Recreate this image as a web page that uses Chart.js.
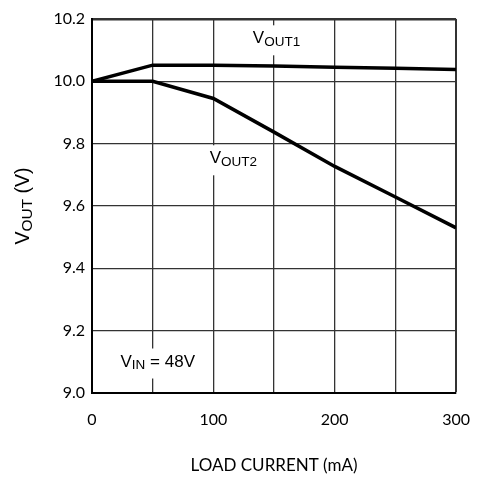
<!DOCTYPE html>
<html>
<head>
<meta charset="utf-8">
<script src="https://cdn.jsdelivr.net/npm/chart.js@4"></script>
<style>
  html, body { margin: 0; padding: 0; background: #fff; }
  #wrap { width: 487px; height: 477px; }
</style>
</head>
<body>
<div id="wrap"><canvas id="myChart" width="487" height="477"></canvas></div>
<script>
// load current (mA) on x, output voltage (V) on y
const loadCurrent = [0, 50, 100, 150, 200, 250, 300];
const vout1 = [10.0, 10.052, 10.052, 10.049, 10.045, 10.042, 10.038];
const vout2 = [10.0, 10.0, 9.945, 9.837, 9.727, 9.629, 9.530];

const xTickLabels = ['0', '100', '200', '300'];
const yTickLabels = ['9.0', '9.2', '9.4', '9.6', '9.8', '10.0', '10.2'];

// text notes inside the plot: main letter + subscript + rest, at (x mA, y V)
const notes = [
  { main: 'V', sub: 'OUT1', rest: '', x: 132.5, y: 10.122 },
  { main: 'V', sub: 'OUT2', rest: '', x: 97, y: 9.737 },
  { main: 'V', sub: 'IN', rest: ' = 48V', x: 23.5, y: 9.085 }
];

const tickFont = { family: 'Lato', size: 16 };
const noteFont = '17px "Liberation Sans"';
const subFont = '13.5px "Liberation Sans"';

function near(a, b) { return Math.abs(a - b) < 1e-6; }

function drawSubText(ctx, main, sub, rest, x, y) {
  ctx.font = noteFont;
  ctx.fillText(main, x, y);
  let w = ctx.measureText(main).width;
  ctx.font = subFont;
  ctx.fillText(sub, x + w, y + 2.7);
  w += ctx.measureText(sub).width;
  ctx.font = noteFont;
  ctx.fillText(rest, x + w, y);
  w += ctx.measureText(rest).width;
  return w;
}

const notesPlugin = {
  id: 'notes',
  beforeDatasetsDraw(chart) {
    const ctx = chart.ctx;
    const xs = chart.scales.x, ys = chart.scales.y;
    ctx.save();
    ctx.textBaseline = 'alphabetic';
    ctx.textAlign = 'left';
    notes.forEach(n => {
      const px = xs.getPixelForValue(n.x);
      const py = ys.getPixelForValue(n.y);
      ctx.font = noteFont;
      let w = ctx.measureText(n.main + n.rest).width;
      ctx.font = subFont;
      w += ctx.measureText(n.sub).width;
      ctx.fillStyle = '#fff';
      ctx.fillRect(px - 3, py - 18, w + 6, 30);
      ctx.fillStyle = '#000';
      drawSubText(ctx, n.main, n.sub, n.rest, px, py);
    });
    ctx.restore();
  },
  afterDraw(chart) {
    const ctx = chart.ctx;
    const area = chart.chartArea;
    ctx.save();
    ctx.fillStyle = '#000';
    // x axis title
    ctx.font = '17px Lato';
    ctx.textAlign = 'center';
    ctx.textBaseline = 'alphabetic';
    ctx.fillText('LOAD CURRENT (mA)', (area.left + area.right) / 2, 471);
    // y axis title, rotated
    const big = '19.5px "Liberation Sans"', small = '15.5px "Liberation Sans"';
    ctx.translate(29, (area.top + area.bottom) / 2);
    ctx.rotate(-Math.PI / 2);
    ctx.font = big;
    let w = ctx.measureText('V').width + ctx.measureText(' (V)').width;
    ctx.font = small;
    w += ctx.measureText('OUT').width;
    ctx.textAlign = 'left';
    ctx.font = big;
    ctx.fillText('V', -w / 2, 0);
    let off = ctx.measureText('V').width;
    ctx.font = small;
    ctx.fillText('OUT', -w / 2 + off, 3);
    off += ctx.measureText('OUT').width;
    ctx.font = big;
    ctx.fillText(' (V)', -w / 2 + off, 0);
    ctx.restore();
  }
};

function series(vals) {
  return loadCurrent.map((x, i) => ({ x: x, y: vals[i] }));
}

new Chart(document.getElementById('myChart'), {
  type: 'line',
  data: {
    datasets: [
      { label: 'VOUT1', data: series(vout1), borderColor: '#000', borderWidth: 3.5, pointRadius: 0, tension: 0 },
      { label: 'VOUT2', data: series(vout2), borderColor: '#000', borderWidth: 3.5, pointRadius: 0, tension: 0 }
    ]
  },
  options: {
    responsive: false,
    animation: false,
    layout: { padding: { top: 19, right: 21, bottom: 0, left: 0 } },
    plugins: { legend: { display: false }, tooltip: { enabled: false } },
    scales: {
      x: {
        type: 'linear',
        min: 0, max: 300,
        afterFit(scale) { scale.height = 84; },
        border: { display: true, color: '#000', width: 2 },
        grid: {
          drawTicks: false,
          color: '#333',
          lineWidth: c => (c.tick && near(c.tick.value, 300)) ? 2 : 1.3
        },
        ticks: {
          stepSize: 50,
          padding: 17,
          color: '#000',
          font: tickFont,
          maxRotation: 0,
          autoSkip: false,
          callback: v => xTickLabels.includes(String(v)) ? String(v) : ''
        }
      },
      y: {
        min: 9.0, max: 10.2,
        afterFit(scale) { scale.width = 92; },
        border: { display: true, color: '#000', width: 2 },
        grid: {
          drawTicks: false,
          color: '#333',
          lineWidth: c => (c.tick && near(c.tick.value, 10.2)) ? 2.5 : 1.3
        },
        ticks: {
          stepSize: 0.2,
          padding: 7,
          color: '#000',
          font: tickFont,
          autoSkip: false,
          callback: v => {
            const s = Number(v).toFixed(1);
            return yTickLabels.includes(s) ? s : '';
          }
        }
      }
    }
  },
  plugins: [notesPlugin]
});
</script>
</body>
</html>
